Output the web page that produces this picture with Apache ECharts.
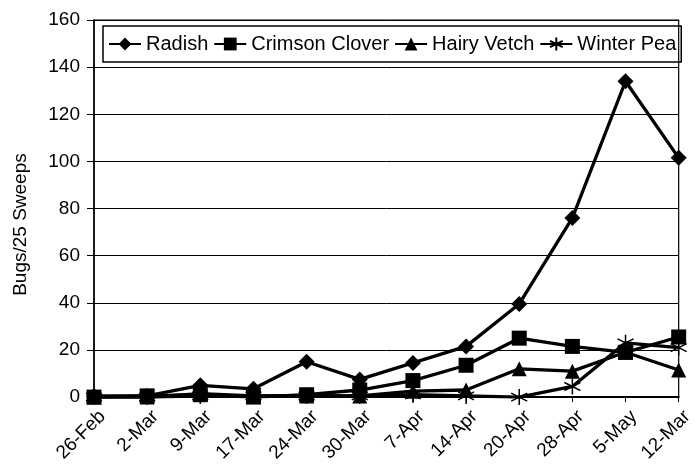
<!DOCTYPE html>
<html>
<head>
<meta charset="utf-8">
<script src="https://cdn.jsdelivr.net/npm/echarts@6/dist/echarts.min.js"></script>
<style>html,body{margin:0;padding:0;background:#fff}#c{width:696px;height:465px}</style>
</head>
<body>
<div id="c"></div>
<script>
var categories = ['26-Feb','2-Mar','9-Mar','17-Mar','24-Mar','30-Mar','7-Apr','14-Apr','20-Apr','28-Apr','5-May','12-Mar'];
var radish  = [0.5, 0.5, 5, 3.5, 15, 7.5, 14.5, 21.5, 39.5, 76, 134, 101.5];
var crimson = [0, 0.5, 1, 0, 1, 3, 7, 13.5, 25, 21.5, 19, 25.5];
var hairy   = [0, 0, 1.5, 0.5, 0.5, 0.5, 2.5, 3, 12, 11, 19, 11.5];
var pea     = [0, 0, 0.5, 0.5, 0.5, 0.5, 1, 0.5, 0, 4.5, 23, 21];
var yTicks = {min: 0, max: 160, interval: 20};

var font = 'Liberation Sans, Arial, sans-serif';
var star = 'path://M0,-10L0,10M-8.66,-5L8.66,5M-8.66,5L8.66,-5';
function mk(name, data, symbol, size, extra) {
  return Object.assign({
    name: name, type: 'line', data: data, symbol: symbol, symbolSize: size,
    showAllSymbol: true,
    lineStyle: {color: '#000', width: 3.3},
    itemStyle: {color: '#000', borderColor: '#000', borderWidth: 0},
    emphasis: {disabled: true}, animation: false
  }, extra || {});
}
var chart = echarts.init(document.getElementById('c'), null, {renderer: 'canvas'});
chart.setOption({
  animation: false,
  grid: {left: 94, right: 7, top: 20, bottom: 61, show: true, borderColor: '#000', borderWidth: 1.2, containLabel: false},
  legend: {
    left: 103, top: 26, padding: [8, 5], itemGap: 5, itemWidth: 32, itemHeight: 16,
    borderColor: '#000', borderWidth: 1.5,
    textStyle: {fontFamily: font, fontSize: 20, color: '#000'},
    data: ['Radish', 'Crimson Clover', 'Hairy Vetch', 'Winter Pea']
  },
  xAxis: {
    type: 'category', data: categories, boundaryGap: false,
    axisLine: {lineStyle: {color: '#000', width: 2}},
    axisTick: {show: true, length: 5, lineStyle: {color: '#000', width: 1}},
    axisLabel: {rotate: 45, interval: 0, margin: 25, color: '#000', fontFamily: font, fontSize: 19, padding: [0, -12, 0, 0]},
    splitLine: {show: false}
  },
  yAxis: {
    type: 'value', min: yTicks.min, max: yTicks.max, interval: yTicks.interval,
    name: 'Bugs/25 Sweeps', nameLocation: 'middle', nameGap: 64,
    nameTextStyle: {fontFamily: font, fontSize: 19, color: '#000', padding: [0, 32, 0, 0]},
    axisLine: {show: true, lineStyle: {color: '#000', width: 1.5}},
    axisTick: {show: true, length: 7, lineStyle: {color: '#000', width: 1}},
    axisLabel: {margin: 14, color: '#000', fontFamily: font, fontSize: 19},
    splitLine: {show: true, lineStyle: {color: '#000', width: 1}}
  },
  series: [
    mk('Radish', radish, 'diamond', 16),
    mk('Crimson Clover', crimson, 'rect', 15),
    mk('Hairy Vetch', hairy, 'triangle', 15),
    mk('Winter Pea', pea, star, 16, {itemStyle: {color: '#000', borderColor: '#000', borderWidth: 1.5}})
  ]
});
</script>
</body>
</html>
